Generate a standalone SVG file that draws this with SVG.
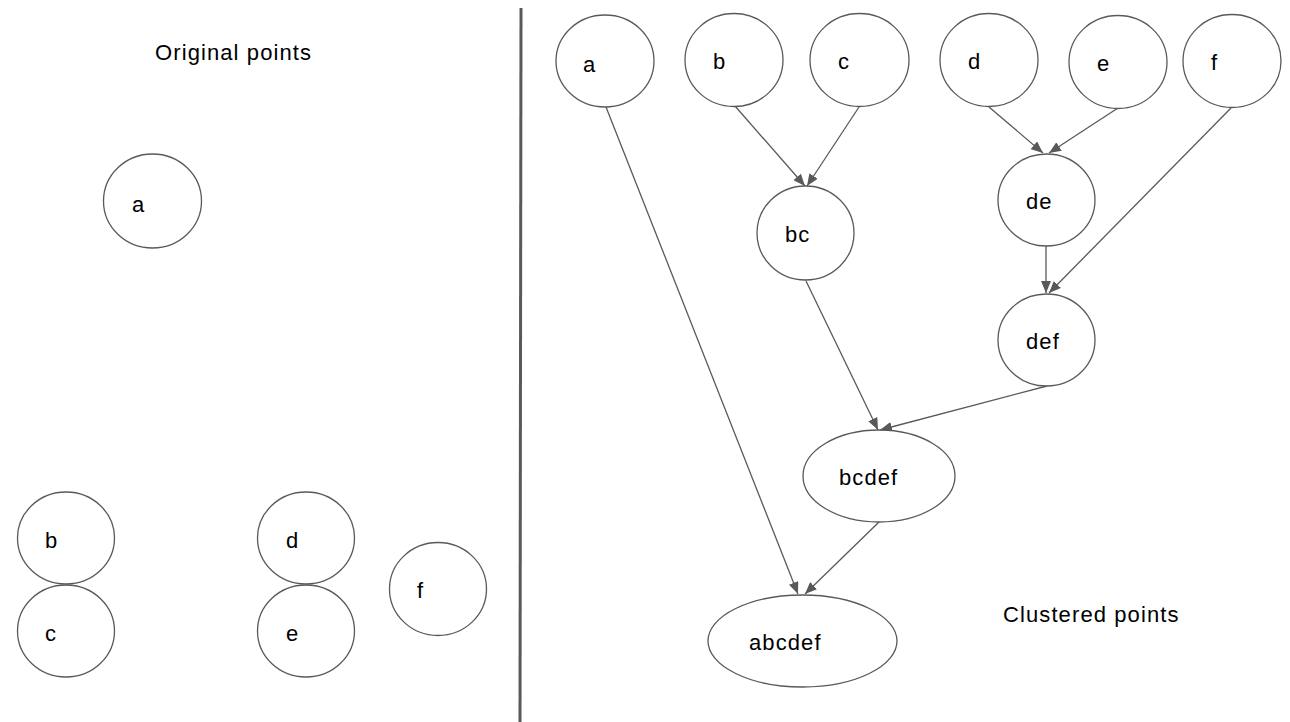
<svg xmlns="http://www.w3.org/2000/svg" width="1290" height="722" viewBox="0 0 1290 722">
<style>
.n{fill:#fff;stroke:#595959;stroke-width:1.3}
.t{font-family:"Liberation Sans",Arial,sans-serif;font-size:22px;fill:#000;letter-spacing:1.1px}
.e{stroke:#595959;stroke-width:1.3;fill:none;marker-end:url(#ah)}
</style>
<defs>
<marker id="ah" viewBox="0 0 12 10" refX="12" refY="5" markerWidth="12" markerHeight="10" markerUnits="userSpaceOnUse" orient="auto">
<path d="M0,0 L12,5 L0,10 Z" fill="#595959"/>
</marker>
</defs>
<rect width="1290" height="722" fill="#fff"/>
<line x1="521" y1="8" x2="520" y2="722" stroke="#595959" stroke-width="3"/>
<text class="t" x="155" y="60">Original points</text>
<text class="t" x="1003" y="622">Clustered points</text>
<g id="left-a"><ellipse class="n" cx="152.5" cy="201" rx="49" ry="47"/><text class="t" x="132" y="212">a</text></g>
<g id="left-b"><ellipse class="n" cx="66" cy="538" rx="48.5" ry="46"/><text class="t" x="45" y="548">b</text></g>
<g id="left-c"><ellipse class="n" cx="66" cy="631" rx="48.5" ry="46"/><text class="t" x="45" y="641">c</text></g>
<g id="left-d"><ellipse class="n" cx="306" cy="538" rx="48.5" ry="46"/><text class="t" x="286" y="548">d</text></g>
<g id="left-e"><ellipse class="n" cx="306" cy="631" rx="48.5" ry="46"/><text class="t" x="286" y="641">e</text></g>
<g id="left-f"><ellipse class="n" cx="438" cy="589" rx="48.5" ry="46.5"/><text class="t" x="417" y="598">f</text></g>
<g id="connectors">
<line class="e" x1="606" y1="107" x2="798" y2="594"/>
<line class="e" x1="735" y1="106" x2="805" y2="186"/>
<line class="e" x1="859" y1="107" x2="807" y2="186"/>
<line class="e" x1="989" y1="107" x2="1043" y2="153"/>
<line class="e" x1="1118" y1="108" x2="1049" y2="153"/>
<line class="e" x1="1231" y1="108" x2="1049" y2="293"/>
<line class="e" x1="1046" y1="246" x2="1046" y2="293"/>
<line class="e" x1="806" y1="281" x2="878" y2="430"/>
<line class="e" x1="1047" y1="386" x2="880" y2="430"/>
<line class="e" x1="879" y1="522" x2="805" y2="594"/>
</g>
<g id="a"><ellipse class="n" cx="605" cy="61" rx="49" ry="46"/><text class="t" x="583" y="72">a</text></g>
<g id="b"><ellipse class="n" cx="734" cy="60" rx="49" ry="46.5"/><text class="t" x="713" y="69">b</text></g>
<g id="c"><ellipse class="n" cx="859.5" cy="60" rx="49.5" ry="46.5"/><text class="t" x="838" y="69">c</text></g>
<g id="d"><ellipse class="n" cx="989" cy="60" rx="49" ry="46.5"/><text class="t" x="968" y="69">d</text></g>
<g id="e"><ellipse class="n" cx="1118" cy="62" rx="49" ry="46.5"/><text class="t" x="1097" y="71">e</text></g>
<g id="f"><ellipse class="n" cx="1232" cy="61" rx="49" ry="46.5"/><text class="t" x="1211" y="70">f</text></g>
<g id="bc"><ellipse class="n" cx="805.5" cy="233" rx="48.5" ry="47"/><text class="t" x="785" y="242">bc</text></g>
<g id="de"><ellipse class="n" cx="1046.5" cy="200" rx="48.5" ry="46"/><text class="t" x="1026" y="209">de</text></g>
<g id="def"><ellipse class="n" cx="1046.5" cy="340" rx="48.5" ry="46"/><text class="t" x="1026" y="349">def</text></g>
<g id="bcdef"><ellipse class="n" cx="879" cy="476" rx="76" ry="46"/><text class="t" x="839" y="485">bcdef</text></g>
<g id="abcdef"><ellipse class="n" cx="802.5" cy="641" rx="94.5" ry="46"/><text class="t" x="749" y="650">abcdef</text></g>
</svg>
